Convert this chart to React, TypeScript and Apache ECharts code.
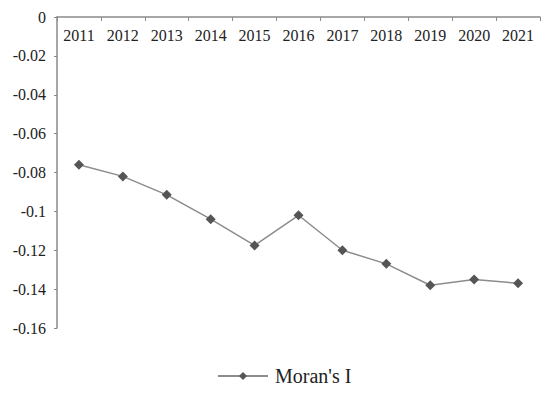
import React, { useEffect, useRef } from "react";
import * as echarts from "echarts";

const years = ["2011", "2012", "2013", "2014", "2015", "2016", "2017", "2018", "2019", "2020", "2021"];
const moransI = [-0.076, -0.082, -0.0915, -0.104, -0.1175, -0.102, -0.12, -0.127, -0.138, -0.135, -0.137];
const seriesName = "Moran's I";

const FONT = "Liberation Serif";

export default function App() {
  const ref = useRef<HTMLDivElement>(null);
  useEffect(() => {
    if (!ref.current) return;
    const chart = echarts.init(ref.current, null, { renderer: "svg" });
    chart.setOption({
      animation: false,
      backgroundColor: "#ffffff",
      grid: { left: 57, top: 17, right: 10, bottom: 69, containLabel: false },
      xAxis: {
        type: "category",
        data: years,
        position: "top",
        boundaryGap: true,
        axisLine: { show: true, onZero: false, lineStyle: { color: "#8a8a8a", width: 1.5 } },
        axisTick: { show: true, inside: true, length: 4, lineStyle: { color: "#8a8a8a" } },
        axisLabel: { inside: true, margin: 10, color: "#222", fontFamily: FONT, fontSize: 16 },
        splitLine: { show: false },
      },
      yAxis: {
        type: "value",
        min: -0.16,
        max: 0,
        interval: 0.02,
        axisLine: { show: true, lineStyle: { color: "#8a8a8a", width: 1.5 } },
        axisTick: { show: true, length: 3, lineStyle: { color: "#8a8a8a" } },
        axisLabel: {
          margin: 11,
          color: "#222",
          fontFamily: FONT,
          fontSize: 16,
          formatter: (v: number) => (Math.abs(v) < 1e-9 ? "0" : String(parseFloat(v.toFixed(2)))),
        },
        splitLine: { show: false },
      },
      legend: {
        data: [seriesName],
        left: 217,
        top: 366,
        padding: 0,
        itemWidth: 50,
        itemHeight: 10,
        itemGap: 10,
        textStyle: { fontFamily: FONT, fontSize: 20, color: "#222", padding: [0, 0, 0, 2] },
      },
      series: [
        {
          name: seriesName,
          type: "line",
          data: moransI,
          symbol: "diamond",
          symbolSize: 10,
          lineStyle: { color: "#8c8c8c", width: 1.5 },
          itemStyle: { color: "#555555" },
        },
      ],
    });
    return () => chart.dispose();
  }, []);
  return <div ref={ref} style={{ width: 550, height: 397, position: "absolute", left: 0, top: 0 }} />;
}
